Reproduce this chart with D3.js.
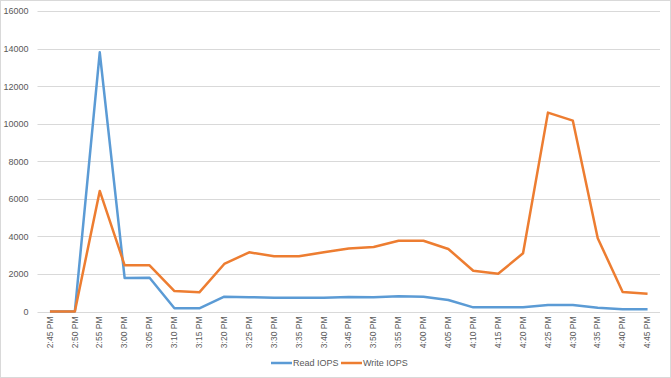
<!DOCTYPE html>
<html lang="en">
<head>
<meta charset="UTF-8">
<title>Read / Write IOPS</title>
<script src="https://d3js.org/d3.v7.min.js"></script>
<style>
    body{ margin:0; background:#fff; }
    svg{ display:block; }
    text{ font-family: "Liberation Sans", Arial, sans-serif; fill:#595959; }
</style>
</head>
<body>
<script>
const times = ["2:45 PM","2:50 PM","2:55 PM","3:00 PM","3:05 PM","3:10 PM","3:15 PM","3:20 PM","3:25 PM",
    "3:30 PM","3:35 PM","3:40 PM","3:45 PM","3:50 PM","3:55 PM","4:00 PM","4:05 PM","4:10 PM","4:15 PM",
    "4:20 PM","4:25 PM","4:30 PM","4:35 PM","4:40 PM","4:45 PM"];
const readIops = [0,0,13800,1780,1800,170,170,790,760,735,735,735,770,760,810,790,610,220,220,220,350,350,200,120,120];
const writeIops = [0,0,6420,2460,2460,1090,1020,2530,3150,2940,2940,3150,3360,3430,3770,3770,3330,2170,2010,3100,10590,10160,3900,1040,950];
const yTicks = [0,2000,4000,6000,8000,10000,12000,14000,16000];

const w = 671, h = 378;
const margin = {left:37.5, right:11, top:11, bottom:66.5};

const svg = d3.select("body").append("svg").attr("width",w).attr("height",h);

svg.append("rect").attr("x",0.5).attr("y",0.5).attr("width",w-1).attr("height",h-1)
    .attr("fill","#fff").attr("stroke","#d9d9d9");

const x = d3.scaleBand().domain(times).range([margin.left, w-margin.right]);
const y = d3.scaleLinear().domain([0,16000]).range([h-margin.bottom, margin.top]);

// gridlines
svg.append("g").selectAll("line").data(yTicks).enter().append("line")
    .attr("x1",margin.left).attr("x2",w-margin.right)
    .attr("y1",d=>Math.round(y(d))+0.5).attr("y2",d=>Math.round(y(d))+0.5)
    .attr("stroke","#d9d9d9").attr("stroke-width",1);

// y labels
const yaxis = d3.axisLeft(y).tickValues(yTicks).tickSize(0).tickPadding(9).tickFormat(d3.format("d"));
const gy = svg.append("g").attr("transform","translate("+margin.left+",0)").call(yaxis);
gy.select(".domain").remove();
gy.selectAll("text").attr("font-size","9px").style("font-family","\"Liberation Sans\", Arial, sans-serif").attr("fill","#595959");

// x labels
const xaxis = d3.axisBottom(x).tickSize(0).tickPadding(0);
const gx = svg.append("g").attr("transform","translate(0,"+(h-margin.bottom)+")").call(xaxis);
gx.select(".domain").remove();
gx.selectAll("text")
    .attr("font-size","8.5px").style("font-family","\"Liberation Sans\", Arial, sans-serif").attr("fill","#595959")
    .attr("text-anchor","end").attr("dy","0.32em").attr("y",0)
    .attr("transform","translate(0,5) rotate(-90)");

const line = d3.line().x((d,i)=>x(times[i])+x.bandwidth()/2).y(d=>y(d));

svg.append("path").datum(readIops).attr("d",line).attr("fill","none")
    .attr("stroke","#5b9bd5").attr("stroke-width",2.5).attr("stroke-linejoin","round");
svg.append("path").datum(writeIops).attr("d",line).attr("fill","none")
    .attr("stroke","#ed7d31").attr("stroke-width",2.5).attr("stroke-linejoin","round");

// legend
const legend = [{name:"Read IOPS",color:"#5b9bd5",x:271},{name:"Write IOPS",color:"#ed7d31",x:341}];
const lg = svg.append("g").selectAll("g").data(legend).enter().append("g")
    .attr("transform",d=>"translate("+d.x+",363)");
lg.append("line").attr("x1",0).attr("x2",21).attr("y1",0).attr("y2",0)
    .attr("stroke",d=>d.color).attr("stroke-width",2.5);
lg.append("text").attr("x",22).attr("y",0).attr("dy","0.35em").attr("font-size","9px").text(d=>d.name);
</script>
</body>
</html>
